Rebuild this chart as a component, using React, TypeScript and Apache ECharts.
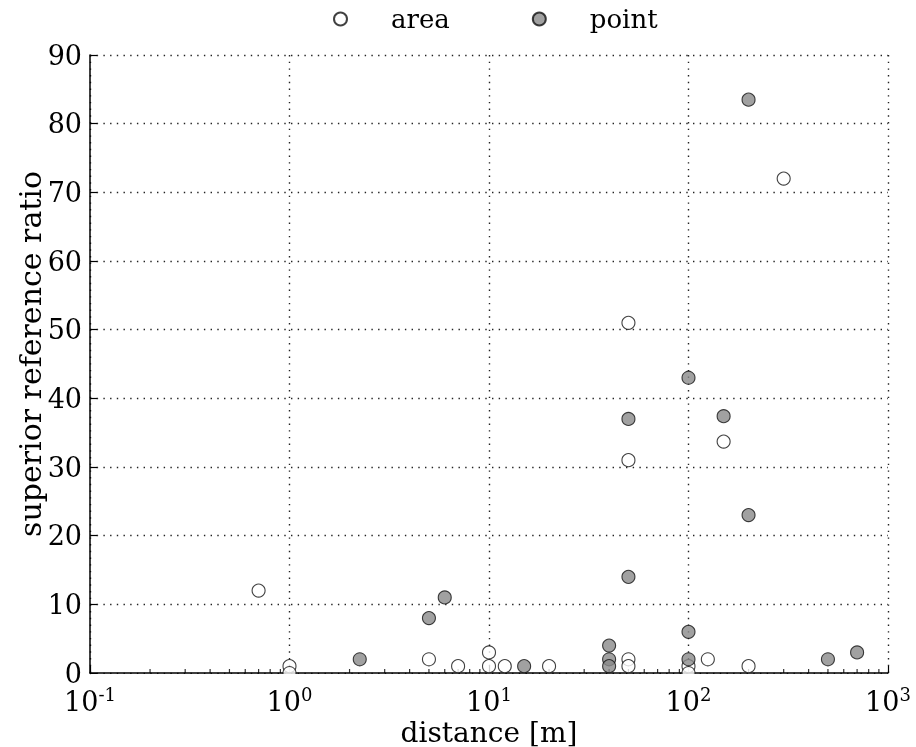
import React, { useEffect, useRef } from "react";
import * as echarts from "echarts";

// Series values
const areaDistance = [0.7, 1, 1, 5, 7, 10, 10, 12, 20, 50, 50, 50, 50, 100, 100, 125, 150, 200, 300];
const areaRatio = [12, 1, 0, 2, 1, 3, 1, 1, 1, 51, 31, 2, 1, 1, 0, 2, 33.7, 1, 72];
const pointDistance = [2.25, 5, 6, 15, 40, 40, 40, 50, 50, 100, 100, 100, 150, 200, 200, 500, 700];
const pointRatio = [2, 8, 11, 1, 4, 2, 1, 14, 37, 43, 6, 2, 37.4, 23, 83.5, 2, 3];

// Axis ranges / ticks
const xMin = 0.1;
const xMax = 1000;
const yMin = 0;
const yMax = 90;
const yInterval = 10;
const decades = [0.1, 1, 10, 100];
const minorMultipliers = [2, 3, 4, 5, 6, 7, 8, 9];

const FONT = "DejaVu Serif";

export default function App() {
  const ref = useRef<HTMLDivElement>(null);

  useEffect(() => {
    if (!ref.current) return;
    const chart = echarts.init(ref.current, undefined, { renderer: "svg" });

    const minorTicks: number[][] = [];
    decades.forEach((d) => minorMultipliers.forEach((m) => minorTicks.push([d * m, 0])));

    const areaData = areaDistance.map((x, i) => [x, areaRatio[i]]);
    const pointData = pointDistance.map((x, i) => [x, pointRatio[i]]);

    const gridLine = { show: true, lineStyle: { color: "#222", type: [1.4, 5.3], width: 1.4 } };

    chart.setOption({
      animation: false,
      textStyle: { fontFamily: FONT, color: "#000" },
      grid: { left: 90, right: 28, top: 55, bottom: 74, containLabel: false, outerBoundsMode: "none" },
      legend: {
        data: ["area", "point"],
        top: 6,
        left: 333,
        padding: 0,
        itemWidth: 13,
        itemHeight: 13,
        itemGap: 82,
        textStyle: { fontFamily: FONT, fontSize: 26, color: "#000", padding: [0, 0, 0, 39] },
      },
      xAxis: {
        type: "log",
        logBase: 10,
        min: xMin,
        max: xMax,
        name: "distance [m]",
        nameLocation: "middle",
        nameGap: 44,
        nameMoveOverlap: false,
        nameTextStyle: { fontFamily: FONT, fontSize: 28, color: "#000", lineHeight: 30 },
        axisLine: { show: true, onZero: false, lineStyle: { color: "#000", width: 1.5 } },
        axisTick: { show: true, inside: true, length: 7, lineStyle: { color: "#000", width: 1.2 } },
        axisLabel: {
          margin: 12,
          formatter: (v: number) => {
            const e = Math.round(Math.log10(v));
            return `{b|10}{s|${e}}`;
          },
          rich: {
            b: { fontFamily: FONT, fontSize: 27, color: "#000", lineHeight: 30, verticalAlign: "bottom" },
            s: { fontFamily: FONT, fontSize: 18, color: "#000", lineHeight: 18, verticalAlign: "top" },
          },
        },
        splitLine: gridLine,
      },
      yAxis: {
        type: "value",
        min: yMin,
        max: yMax,
        interval: yInterval,
        name: "superior reference ratio",
        nameLocation: "middle",
        nameGap: 45,
        nameMoveOverlap: false,
        nameTextStyle: { fontFamily: FONT, fontSize: 30, color: "#000", padding: [0, 0, 0, 20] },
        axisLine: { show: true, lineStyle: { color: "#000", width: 1.5 } },
        axisTick: { show: true, inside: true, length: 7, lineStyle: { color: "#000", width: 1.2 } },
        axisLabel: { margin: 8, fontFamily: FONT, fontSize: 27, color: "#000" },
        splitLine: gridLine,
      },
      graphic: [
        {
          type: "rect",
          z: 100,
          shape: { x: 90.5, y: 674, width: 799, height: 8 },
          style: { fill: "#fff" },
          silent: true,
        },
      ],
      series: [
        {
          name: "minor",
          type: "scatter",
          data: minorTicks,
          symbol: "rect",
          symbolSize: [1.2, 4],
          symbolOffset: [0, -2],
          itemStyle: { color: "#000" },
          silent: true,
          z: 1,
        },
        {
          name: "area",
          type: "scatter",
          data: areaData,
          symbol: "circle",
          symbolSize: 13,
          itemStyle: { color: "#fff", borderColor: "#111", borderWidth: 1.1 },
          z: 3,
        },
        {
          name: "point",
          type: "scatter",
          data: pointData,
          symbol: "circle",
          symbolSize: 13,
          itemStyle: { color: "#8a8a8a", borderColor: "#111", borderWidth: 1.1 },
          z: 4,
        },
      ],
    });

    return () => chart.dispose();
  }, []);

  return <div ref={ref} style={{ position: "fixed", left: 0, top: 0, width: 916, height: 747 }} />;
}
